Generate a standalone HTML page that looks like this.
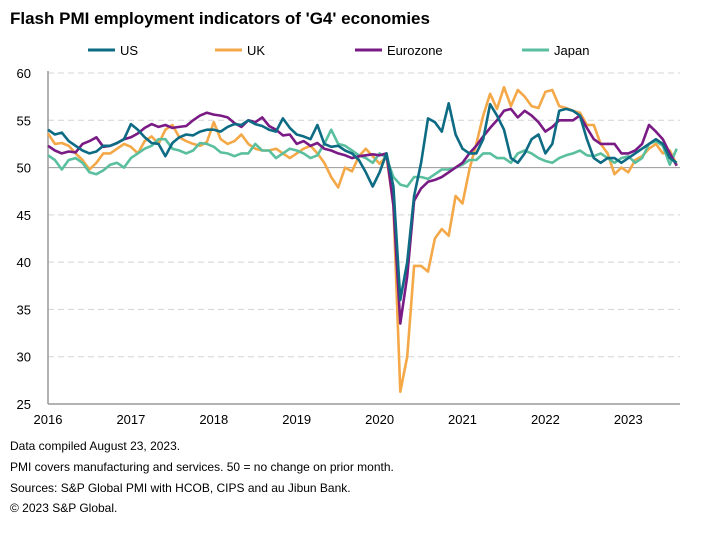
<!DOCTYPE html>
<html><head><meta charset="utf-8"><style>
body{margin:0;background:#fff;font-family:"Liberation Sans",Arial,sans-serif;}
svg text{font-family:"Liberation Sans",Arial,sans-serif;}
</style></head><body>
<svg width="725" height="532" viewBox="0 0 725 532">
<text x="10" y="24" font-size="17" font-weight="bold" fill="#000">Flash PMI employment indicators of 'G4' economies</text>
<g id="legend"></g>
<g id="grid"></g>
<g id="axes"></g>
<g id="series"></g>
<g font-size="12" fill="#000">
<text x="10" y="450">Data compiled August 23, 2023.</text>
<text x="10" y="471">PMI covers manufacturing and services. 50 = no change on prior month.</text>
<text x="10" y="492">Sources: S&amp;P Global PMI with HCOB, CIPS and au Jibun Bank.</text>
<text x="10" y="512">© 2023 S&amp;P Global.</text>
</g>
</svg>
<script>
const yTicks=[25,30,35,40,45,50,55,60];
const yearLabels=["2016","2017","2018","2019","2020","2021","2022","2023"];
const seriesNames=["US","UK","Eurozone","Japan"];
const usData=[54,53.5,53.7,52.8,52.3,51.8,51.5,51.7,52.3,52.3,52.6,53,
54.6,54,53.2,52.6,52.5,51.2,52.6,53.2,53.5,53.4,53.8,54,
54,53.8,54.3,54.6,54.5,55,54.6,54.4,54,53.8,55.2,54.2,
53.5,53.3,53,54.5,52.5,52.2,52.3,51.8,51.5,50.8,49.5,48,
49.5,51.5,48,36,40,47,50.5,55.2,54.8,53.8,56.8,53.5,
52,51.5,51.5,53,56.7,55.5,54,51,50.5,51.5,53,53.5,
51.5,52.5,56,56.2,56,55.5,53,51,50.5,51,51,50.5,
51,51.5,52,52.5,53,52.5,51,50.5];
const ukData=[53.6,52.5,52.6,52.3,51.5,50.8,49.8,50.5,51.5,51.5,52,52.5,
52.2,51.5,52.8,53.3,52.5,54,54.5,53.2,52.8,52.5,52.3,52.7,
54.8,53,52.5,52.8,53.5,52.5,52,51.8,51.8,52,51.5,51,
51.5,52,52.3,51.5,50.5,49,47.9,50,49.6,51.2,52,51.2,
50.4,51.2,46,26.3,30,39.6,39.6,39,42.5,43.5,42.8,47,
46.2,49.8,52.5,55.5,57.8,56.2,58.5,56.5,58.2,57.5,56.5,56.3,
58,58.2,56.5,56.3,56,55.8,54.5,54.5,52.5,51.5,49.3,50,
49.5,50.8,51.2,52,52.5,51.5,51.8,50.3];
const ezData=[52.3,51.8,51.5,51.7,51.6,52.5,52.8,53.2,52.2,52.3,52.6,53,
53.2,53.6,54.2,54.6,54.3,54.5,54.2,54.3,54.4,55,55.5,55.8,
55.6,55.5,55.3,54.7,54.3,55,54.8,55.3,54.4,54,53.4,53.5,
52.5,52.8,52.3,52.6,52,51.8,51.5,51.3,51,51.2,51.3,51.4,
51.3,51.5,46,33.5,38.5,46.5,47.8,48.5,48.7,49,49.5,50,
50.5,51.5,52.3,53.3,54.2,55,56,56.2,55.3,56,55.5,54.8,
53.8,54.3,55,55,55,55.5,54.2,53,52.5,52.5,52.5,51.5,
51.5,51.8,52.5,54.5,53.8,53,51.5,50.2];
const jpData=[51.3,50.8,49.8,50.8,51,50.5,49.5,49.3,49.7,50.3,50.5,50,
51,51.5,52,52.3,53,53,52,51.8,51.5,51.8,52.6,52.5,
52.2,51.6,51.5,51.2,51.5,51.5,52.5,51.8,51.8,51,51.5,52,
51.8,51.5,51,51.3,52.5,54,52.5,52.3,51.8,51.3,51,50.5,
51.5,51,49,48.2,48,49,49,48.8,49.3,49.8,49.8,50,
50.3,50.8,50.8,51.5,51.5,51,51,50.5,51.5,51.8,51.5,51,
50.7,50.5,51,51.3,51.5,51.8,51.3,51.2,51.5,51,50.5,51,
51.2,50.5,51,52.5,52.8,52.3,50.3,52];
const NS="http://www.w3.org/2000/svg";
const X0=48,YEARW=82.9,Y60=73,UNIT=9.457;
function xs(i){return X0+i*YEARW/12;}
function ys(v){return Y60+(60-v)*UNIT;}
function mk(tag,attrs,parent){const e=document.createElementNS(NS,tag);for(const k in attrs)e.setAttribute(k,attrs[k]);parent.appendChild(e);return e;}
const grid=document.getElementById('grid'),axes=document.getElementById('axes'),ser=document.getElementById('series'),leg=document.getElementById('legend');
yTicks.forEach(v=>{
 if(v!==25){const l=mk('line',{x1:X0,x2:680,y1:ys(v),y2:ys(v),stroke:v===50?'#9a9a9a':'#d4d4d4','stroke-width':1,'stroke-dasharray':v===50?'':'6,4'},grid);
 
 }
 const t=mk('text',{x:X0-17,y:ys(v)+5,'font-size':13,'text-anchor':'end',fill:'#000'},axes);t.textContent=v;
 
 
});
const ax=mk('line',{x1:X0,x2:X0,y1:ys(60)-2,y2:ys(25),stroke:'#999','stroke-width':1.5},axes);


const bx=mk('line',{x1:X0,x2:680,y1:ys(25),y2:ys(25),stroke:'#999','stroke-width':1.5},axes);


yearLabels.forEach((lab,k)=>{
 const t=mk('text',{x:xs(k*12),y:424,'font-size':13,'text-anchor':'middle',fill:'#000'},axes);t.textContent=lab;
 
 
});
const colors=['#0e6b84','#f4a848','#7a1b85','#5abf9f'];
const datas=[usData,ukData,ezData,jpData];
[1,3,2,0].forEach(s=>{
 const d=datas[s].map((v,i)=>(i?'L':'M')+xs(i).toFixed(1)+','+ys(v).toFixed(1)).join('');
 const p=mk('path',{d:d,fill:'none',stroke:colors[s],'stroke-width':2.6,'stroke-linejoin':'round'},ser);
 
 
});
const legX=[88,215,355,522];
seriesNames.forEach((n,s)=>{
 const l=mk('line',{x1:legX[s],x2:legX[s]+27,y1:50,y2:50,stroke:colors[s],'stroke-width':3},leg);
 
 
 const t=mk('text',{x:legX[s]+32,y:55,'font-size':13,fill:'#000'},leg);t.textContent=n;
 
 
});
</script>
</body></html>
